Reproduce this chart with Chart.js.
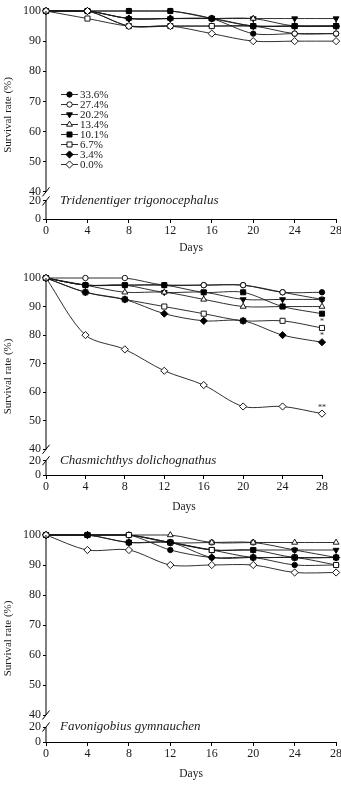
<!DOCTYPE html>
<html>
<head>
<meta charset="utf-8">
<script src="https://cdn.jsdelivr.net/npm/chart.js@4.4.1/dist/chart.umd.min.js"></script>
<style>
html, body { margin: 0; padding: 0; background: #fff; }
body { width: 341px; height: 788px; position: relative; overflow: hidden; }
canvas { position: absolute; left: 0; }
</style>
</head>
<body>
<canvas id="c1" width="341" height="260" style="top:0px"></canvas>
<canvas id="c2" width="341" height="260" style="top:260px"></canvas>
<canvas id="c3" width="341" height="268" style="top:520px"></canvas>
<script>
// data
const days = [0, 4, 8, 12, 16, 20, 24, 28];
const groups = ['33.6%', '27.4%', '20.2%', '13.4%', '10.1%', '6.7%', '3.4%', '0.0%'];
const yTicks = [40, 50, 60, 70, 80, 90, 100];
const yLowLabels = ['20', '0'];
const species = ['Tridenentiger trigonocephalus', 'Chasmichthys dolichognathus', 'Favonigobius gymnauchen'];

const tridentSurvival = [
    [100, 100, 100, 100, 97.5, 92.5, 92.5, 92.5],
    [100, 100, 95, 95, 95, 95, 92.5, 92.5],
    [100, 100, 97.5, 97.5, 97.5, 97.5, 97.5, 97.5],
    [100, 100, 97.5, 97.5, 97.5, 97.5, 95, 95],
    [100, 100, 100, 100, 97.5, 95, 95, 95],
    [100, 97.5, 95, 95, 95, 95, 95, 95],
    [100, 100, 97.5, 97.5, 97.5, 95, 95, 95],
    [100, 100, 95, 95, 92.5, 90, 90, 90]
];
const chasmSurvival = [
    [100, 97.5, 97.5, 97.5, 97.5, 97.5, 95, 95],
    [100, 100, 100, 97.5, 97.5, 97.5, 95, 92.5],
    [100, 97.5, 97.5, 95, 95, 92.5, 92.5, 92.5],
    [100, 97.5, 95, 95, 92.5, 90, 90, 90],
    [100, 97.5, 97.5, 97.5, 95, 95, 90, 87.5],
    [100, 95, 92.5, 90, 87.5, 85, 85, 82.5],
    [100, 95, 92.5, 87.5, 85, 85, 80, 77.5],
    [100, 80, 75, 67.5, 62.5, 55, 55, 52.5]
];
const favoSurvival = [
    [100, 100, 100, 95, 92.5, 92.5, 90, 90],
    [100, 100, 100, 97.5, 97.5, 97.5, 95, 92.5],
    [100, 100, 100, 97.5, 95, 95, 95, 95],
    [100, 100, 100, 100, 97.5, 97.5, 97.5, 97.5],
    [100, 100, 97.5, 97.5, 95, 95, 92.5, 92.5],
    [100, 100, 100, 97.5, 95, 92.5, 92.5, 90],
    [100, 100, 97.5, 97.5, 92.5, 92.5, 92.5, 92.5],
    [100, 95, 95, 90, 90, 90, 87.5, 87.5]
];
// significance marks at day 28 (Chasmichthys only)
const chasmSig = ['', '', '', '', '', '*', '*', '**'];

// marker styles for each group
const markers = [
    { style: 'circle', rot: 0, r: 2.7, fill: true },
    { style: 'circle', rot: 0, r: 2.7, fill: false },
    { style: 'triangle', rot: 180, r: 3.4, fill: true },
    { style: 'triangle', rot: 0, r: 3.4, fill: false },
    { style: 'rect', rot: 0, r: 3.6, fill: true },
    { style: 'rect', rot: 0, r: 3.6, fill: false },
    { style: 'rectRot', rot: 0, r: 3.6, fill: true },
    { style: 'rectRot', rot: 0, r: 3.6, fill: false }
];

const SERIF = '"Liberation Serif", "DejaVu Serif", serif';
const INK = '#1a1a1a';

function drawMark(ctx, m, x, y) {
    ctx.save();
    ctx.fillStyle = m.fill ? '#000' : '#fff';
    ctx.strokeStyle = '#000';
    ctx.lineWidth = 0.9;
    if (Chart.helpers && Chart.helpers.drawPoint) {
        Chart.helpers.drawPoint(ctx, { pointStyle: m.style, rotation: m.rot, radius: m.r, borderWidth: 0.9 }, x, y);
    } else {
        ctx.beginPath();
        ctx.arc(x, y, m.r, 0, Math.PI * 2);
        ctx.fill();
        ctx.stroke();
    }
    ctx.restore();
}

// y axis with a break; ticks below the break are relabelled
const breakPlugin = {
    id: 'breakAxis',
    afterDraw(chart, args, opts) {
        const ctx = chart.ctx;
        const y = chart.scales.y;
        const x0 = chart.chartArea.left;
        const y100 = y.getPixelForValue(100);
        const y40 = y.getPixelForValue(40);
        const yB = y.getPixelForValue(opts.brk);
        const y0 = y.getPixelForValue(y.min);
        ctx.save();
        ctx.strokeStyle = '#000';
        ctx.lineWidth = 1;
        ctx.beginPath();
        ctx.moveTo(x0, y100);
        ctx.lineTo(x0, y40);
        ctx.moveTo(x0, yB);
        ctx.lineTo(x0, y0);
        ctx.moveTo(x0 - 3.5, y40 + 4.5);
        ctx.lineTo(x0 + 3.5, y40 - 4.5);
        ctx.moveTo(x0 - 3.5, yB + 4.5);
        ctx.lineTo(x0 + 3.5, yB - 4.5);
        ctx.stroke();

        ctx.fillStyle = INK;
        ctx.font = 'italic 13px ' + SERIF;
        ctx.textBaseline = 'middle';
        ctx.textAlign = 'left';
        ctx.fillText(opts.name, 60, yB);

        if (opts.legend) {
            ctx.font = '11px ' + SERIF;
            groups.forEach((g, i) => {
                const ly = 94.5 + i * 10;
                ctx.strokeStyle = INK;
                ctx.lineWidth = 0.9;
                ctx.beginPath();
                ctx.moveTo(61, ly);
                ctx.lineTo(78, ly);
                ctx.stroke();
                drawMark(ctx, markers[i], 69.5, ly);
                ctx.fillStyle = INK;
                ctx.fillText(g, 80, ly + 0.5);
            });
        }

        if (opts.sig) {
            ctx.font = '8px ' + SERIF;
            ctx.textAlign = 'center';
            ctx.textBaseline = 'bottom';
            opts.sig.forEach((s, i) => {
                if (!s) return;
                const meta = chart.getDatasetMeta(i);
                const pt = meta.data[meta.data.length - 1];
                ctx.fillText(s, pt.x, pt.y - 2);
            });
        }
        ctx.restore();
    }
};

function makePanel(id, values, cfg) {
    const datasets = values.map((vals, i) => ({
        label: groups[i],
        data: days.map((d, k) => ({ x: d, y: vals[k] })),
        borderColor: INK,
        borderWidth: 0.9,
        tension: 0.3,
        clip: false,
        pointStyle: markers[i].style,
        pointRotation: markers[i].rot,
        pointRadius: markers[i].r,
        pointBorderWidth: 0.9,
        pointBorderColor: '#000',
        pointBackgroundColor: markers[i].fill ? '#000' : '#fff'
    }));

    new Chart(document.getElementById(id), {
        type: 'line',
        data: { datasets: datasets.reverse() },
        options: {
            responsive: false,
            animation: false,
            devicePixelRatio: 1,
            layout: { padding: { left: 0, top: cfg.top, right: cfg.right, bottom: 0 } },
            plugins: {
                legend: { display: false },
                tooltip: { enabled: false },
                breakAxis: { brk: cfg.brk, name: cfg.name, legend: cfg.legend, sig: cfg.sig }
            },
            scales: {
                x: {
                    type: 'linear',
                    min: 0,
                    max: 28,
                    ticks: { stepSize: 4, color: INK, font: { family: SERIF, size: 12 }, padding: 1, maxRotation: 0 },
                    grid: { drawOnChartArea: false, tickLength: 4, color: '#000' },
                    border: { color: '#000', width: 1 },
                    title: { display: true, text: 'Days', color: INK, font: { family: SERIF, size: 11.5 }, padding: { top: 0, bottom: cfg.daysPad } },
                    afterFit: s => { s.height = cfg.xh; s.paddingLeft = 0; s.paddingRight = 0; }
                },
                y: {
                    type: 'linear',
                    min: 31,
                    max: 100,
                    afterBuildTicks: s => { s.ticks = [31, cfg.brk].concat(yTicks).map(v => ({ value: v })); },
                    ticks: {
                        color: INK,
                        font: { family: SERIF, size: 12 },
                        padding: 2,
                        callback: v => v === 31 ? yLowLabels[1] : (v === cfg.brk ? yLowLabels[0] : v)
                    },
                    grid: { drawOnChartArea: false, tickLength: 3, color: '#000' },
                    border: { display: false },
                    title: { display: true, text: 'Survival rate (%)', color: INK, font: { family: SERIF, size: 11 }, padding: { top: 1.5, bottom: 0 } },
                    afterFit: s => { s.width = 46; s.paddingTop = 0; s.paddingBottom = 0; }
                }
            }
        },
        plugins: [breakPlugin]
    });
}

makePanel('c1', tridentSurvival, { top: 11, right: 3, xh: 41, daysPad: 5.4, brk: 37, name: species[0], legend: true });
makePanel('c2', chasmSurvival, { top: 18, right: 19, xh: 45, daysPad: 6.4, brk: 36, name: species[1], sig: chasmSig.slice().reverse() });
makePanel('c3', favoSurvival, { top: 15, right: 3, xh: 46, daysPad: 7.4, brk: 36, name: species[2] });
</script>
</body>
</html>
